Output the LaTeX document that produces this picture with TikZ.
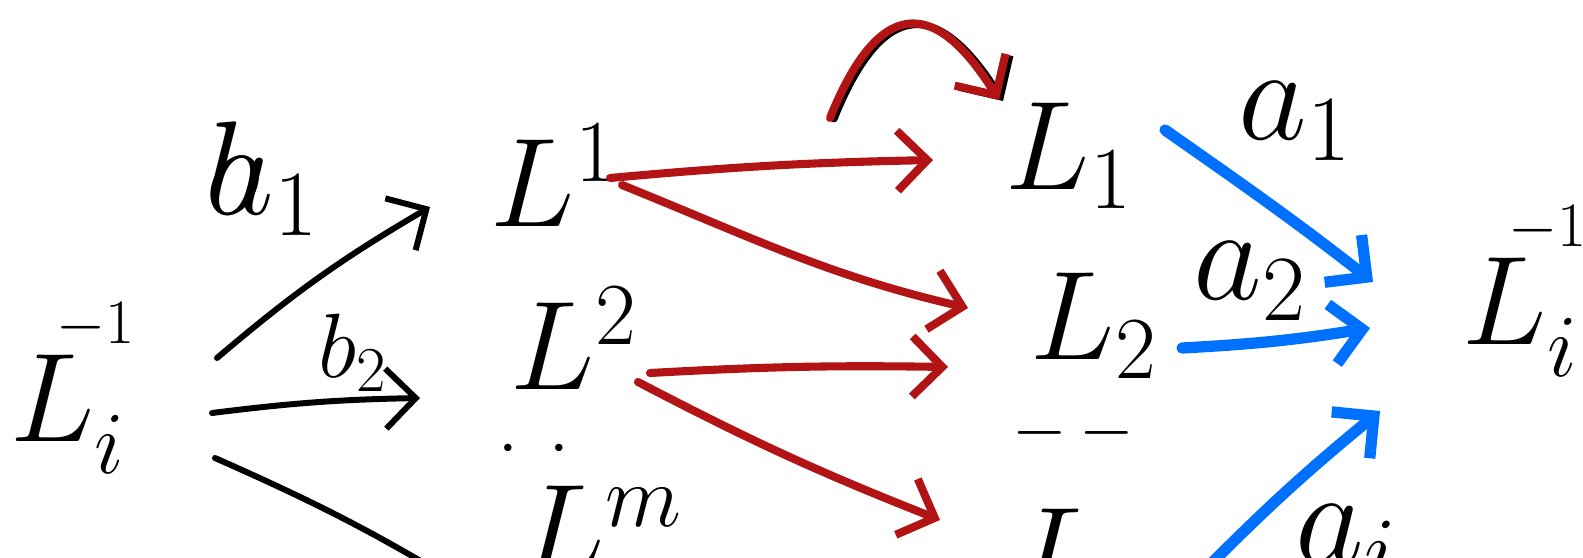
\RequirePackage{fix-cm}
\documentclass[tikz,border=0pt]{standalone}
\usepackage{amsmath}
\usetikzlibrary{positioning,arrows.meta}

\definecolor{inkred}{RGB}{178,20,22}
\definecolor{inkblue}{RGB}{0,112,255}

\newcommand{\invsup}{^{\kern-11pt\raisebox{15pt}{$\scriptscriptstyle -1$}}}

\begin{document}
\begin{tikzpicture}[>={Straight Barb[length=3mm,width=6mm]}, line cap=round, line join=round,
    sym/.style={anchor=base west, inner sep=0pt, font=\fontsize{36}{40}\selectfont},
    lbl/.style={anchor=base west, inner sep=0pt, font=\fontsize{38}{42}\selectfont},
    blkarr/.style={->, line width=1.7pt},
    redarr/.style={->, inkred, line width=2.3pt},
    bluearr/.style={->, inkblue, line width=3.2pt}]

  \useasboundingbox (0,0) rectangle (15.83,-5.58);
  \clip (0,0) rectangle (15.83,-5.58);

  % ── left column ──────────────────────────────────────────────────────────

  \node[sym] (Lim) at (0.10,-4.42) {$L_i\invsup$};

  % ── middle column: L^1, L^2, ..., L^m ───────────────────────────────────

  \node[sym] (Lone) at (4.90,-2.27) {$L^1$};
  \node[sym] (Ltwo) at (5.10,-3.90) {$L^2$};
  \node[sym, font=\fontsize{20}{24}\selectfont] (vdots) at (4.98,-4.66) {$\cdot\;\,\cdot$};
  \node[sym] (Lm) at (5.20,-5.72) {$L^m$};

  % ── right column: L_1, L_2, ..., L_m ────────────────────────────────────

  \node[sym] (Lonesub) at (10.05,-1.90) {$L_1$};
  \node[sym] (Ltwosub) at (10.30,-3.60) {$L_2$};
  \node[sym, font=\fontsize{20}{24}\selectfont] (hdots) at (10.12,-4.50) {$-\,-$};
  \node[sym] (Lmsub) at (10.15,-5.95) {$L_m$};

  \node[sym] (Rinv) at (14.62,-3.45) {$L_i\invsup$};

  % ── black arrows ─────────────────────────────────────────────────────────

  \draw[blkarr] ([shift={(2.07,0.84)}]Lim.base west)
    to[bend left=5] ([shift={(-0.60,0.20)}]Lone.base west);
  \draw[blkarr] ([shift={(2.02,0.29)}]Lim.base west)
    to[bend left=3] ([shift={(-0.90,-0.08)}]Ltwo.base west);
  \draw[blkarr] ([shift={(2.05,-0.16)}]Lim.base west)
    to[bend left=4] ([shift={(-0.30,-0.31)}]Lm.base west);

  \node[lbl] (ba) at (2.05,-2.15) {$\rlap{$b$}a_1$};
  \node[lbl, font=\fontsize{26}{30}\selectfont] (btwo) at (3.18,-3.78) {$b_2$};

  % ── red arrows ───────────────────────────────────────────────────────────

  \draw[redarr] ([shift={(1.20,0.49)}]Lone.base west)
    to[bend left=2] ([shift={(-0.72,0.30)}]Lonesub.base west);
  \draw[redarr] ([shift={(1.32,0.42)}]Lone.base west)
    to[out=-22, in=167] ([shift={(-0.62,0.52)}]Ltwosub.base west);
  \draw[redarr] ([shift={(1.40,0.17)}]Ltwo.base west)
    to[bend left=2] ([shift={(-0.82,-0.07)}]Ltwosub.base west);
  \draw[redarr] ([shift={(1.28,0.08)}]Ltwo.base west)
    to[bend right=3] ([shift={(-0.75,0.75)}]Lmsub.base west);

  % arc into L_1 (black stroke under the red one)
  \coordinate (arcstart) at (8.30,-1.18);
  \draw[blkarr, line width=2pt] ([shift={(0.04,-0.01)}]arcstart)
    to[out=68, in=122, looseness=1.9] ([shift={(-0.02,0.89)}]Lonesub.base west);
  \draw[redarr] (arcstart)
    to[out=68, in=122, looseness=1.9] ([shift={(-0.06,0.90)}]Lonesub.base west);

  % ── blue arrows ──────────────────────────────────────────────────────────

  \draw[bluearr] ([shift={(1.60,0.60)}]Lonesub.base west)
    to[out=-35, in=142] ([shift={(-0.89,0.63)}]Rinv.base west);
  \draw[bluearr] ([shift={(1.52,0.12)}]Ltwosub.base west)
    to[bend right=3] ([shift={(-0.92,0.17)}]Rinv.base west);
  \draw[bluearr] ([shift={(1.80,0.15)}]Lmsub.base west)
    to[bend left=3] ([shift={(-0.82,-0.66)}]Rinv.base west);

  \node[lbl] (aone) at (12.38,-1.40) {$a_1$};
  \node[lbl] (atwo) at (11.93,-3.00) {$a_2$};
  \node[lbl] (ai) at (12.95,-5.62) {$a_i$};

\end{tikzpicture}
\end{document}
